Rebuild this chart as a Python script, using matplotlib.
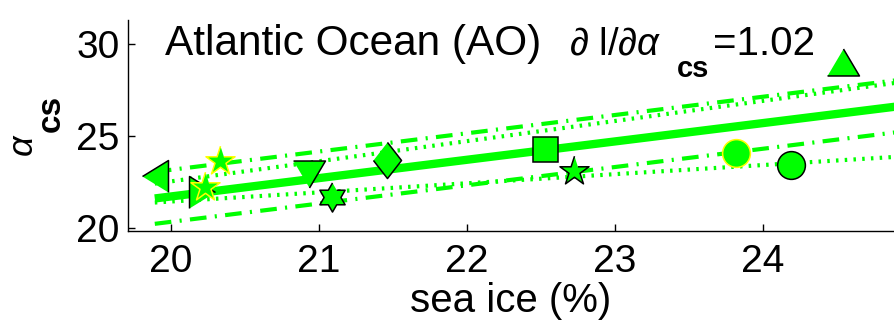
import numpy as np
import matplotlib
matplotlib.use('Agg')
import matplotlib.pyplot as plt

plt.rcParams.update({'font.family': 'Liberation Sans',
                     'mathtext.fontset': 'custom',
                     'mathtext.rm': 'Liberation Sans',
                     'mathtext.it': 'Liberation Sans:italic',
                     'mathtext.bf': 'Liberation Sans:bold'})

# sea ice (%) vs alpha_cs, one marker per model
sea_ice = [19.89, 20.21, 20.23, 20.33, 20.93, 21.09, 21.46, 22.53, 22.72, 23.82, 24.19, 24.54]
alpha_cs = [22.8, 21.93, 22.2, 23.6, 22.9, 21.66, 23.7, 24.26, 23.1, 24.07, 23.4, 29.0]
marker_kind = ['left', 'right', 'star', 'star', 'down', 'hex', 'diamond', 'square', 'star', 'circle', 'circle', 'up']
edge_colors = ['k', 'k', 'yellow', 'yellow', 'k', 'k', 'k', 'k', 'k', 'yellow', 'k', 'k']

# fit line and bands, values read at the two ends of the fitted range
fit_x = [19.89, 24.95]
fit_y = [21.58, 26.63]
band_dashdot_hi = [23.03, 28.06]
band_dashdot_lo = [20.20, 25.23]
band_dot_hi = [22.39, 27.93]
band_dot_lo = [21.36, 23.87]

green = '#00ff00'


def star_verts(n, inner):
    ang = np.pi / 2 + np.arange(2 * n) * np.pi / n
    rad = np.where(np.arange(2 * n) % 2 == 0, 1.0, inner)
    return list(zip(rad * np.cos(ang), rad * np.sin(ang)))


# marker shapes (MATLAB look) and sizes in points
shapes = {
    'left': ([(-13, 0), (13, 16), (13, -16)], 23),
    'right': ([(13, 0), (-13, 16), (-13, -16)], 23),
    'up': ([(0, 13.5), (16, -13.5), (-16, -13.5)], 23),
    'down': ([(0, -13.5), (16, 13.5), (-16, 13.5)], 23),
    'diamond': ([(0, 18), (14, 0), (0, -18), (-14, 0)], 26),
    'square': ('s', 18),
    'circle': ('o', 20),
    'star': (star_verts(5, 0.38), 22),
    'hex': (star_verts(6, 0.577), 21),
}

fig = plt.figure(figsize=(8.94, 3.25), dpi=100)
ax = fig.add_axes([128 / 894, 1 - 231 / 325, 1 - 128 / 894, (231 - 20) / 325])

ax.plot(fit_x, fit_y, color=green, lw=6, solid_capstyle='butt')
for band in (band_dashdot_hi, band_dashdot_lo):
    ax.plot(fit_x, band, color=green, lw=3, dashes=(4, 2, 0.5, 2), dash_capstyle='butt')
for band in (band_dot_hi, band_dot_lo):
    ax.plot(fit_x, band, color=green, lw=3, dashes=(0.6, 1.5), dash_capstyle='butt')

for x, y, kind, ec in zip(sea_ice, alpha_cs, marker_kind, edge_colors):
    m, ms = shapes[kind]
    ax.plot(x, y, marker=m, ms=ms, mfc=green, mec=ec, mew=1.1, ls='none', clip_on=False, zorder=5)

ax.set_xlim(19.709, 24.885)
ax.set_ylim(19.81, 31.29)
ax.set_xticks([20, 21, 22, 23, 24])
ax.set_yticks([20, 25, 30])
ax.tick_params(direction='in', length=5, width=1, labelsize=28, pad=9)
ax.tick_params(axis='y', pad=6)
for s in ['top', 'right']:
    ax.spines[s].set_visible(False)
for s in ['left', 'bottom']:
    ax.spines[s].set_linewidth(1)

ax.set_xlabel('sea ice (%)', fontsize=29, labelpad=2)

# title pieces, MATLAB style subscript
fig.text(165 / 894, 1 - 55 / 325, 'Atlantic Ocean (AO)', fontsize=30.5, va='baseline')
fig.text(569 / 894, 1 - 55 / 325, r'$\partial$ l/$\partial\alpha$', fontsize=27.5, va='baseline')
fig.text(677 / 894, 1 - 76.7 / 325, 'cs', fontsize=21, fontweight='bold', va='baseline')
fig.text(713 / 894, 1 - 55 / 325, '=1.02', fontsize=29, va='baseline')

# y label: alpha with bold subscript
fig.text(33 / 894, 1 - 157 / 325, r'$\alpha$', fontsize=26, rotation=90,
         rotation_mode='anchor', ha='left', va='baseline')
fig.text(60 / 894, 1 - 132 / 325, 'cs', fontsize=24, fontweight='bold', rotation=90,
         rotation_mode='anchor', ha='left', va='baseline')

plt.savefig('out.png', dpi=100)
